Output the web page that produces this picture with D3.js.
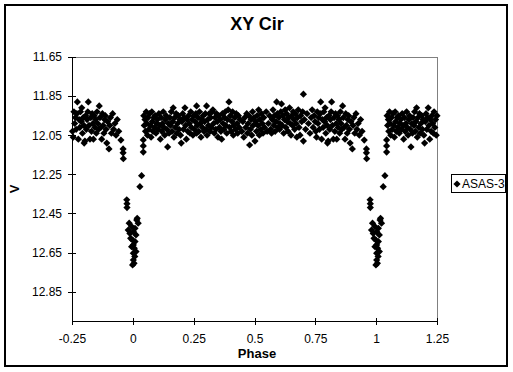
<!DOCTYPE html>
<html>
<head>
<meta charset="utf-8">
<script src="https://cdn.jsdelivr.net/npm/d3@7"></script>
<style>
  body { margin: 0; background: #fff; }
  text { font-family: "Liberation Sans", Arial, sans-serif; fill: #000; }
</style>
</head>
<body>
<svg id="chart"></svg>
<script>
//axis ticks and labels
let xTicks = [-0.25, 0, 0.25, 0.5, 0.75, 1, 1.25];
let xTickLabels = ['-0.25', '0', '0.25', '0.5', '0.75', '1', '1.25'];
let yTicks = [11.65, 11.85, 12.05, 12.25, 12.45, 12.65, 12.85];
let yTickLabels = ['11.65', '11.85', '12.05', '12.25', '12.45', '12.65', '12.85'];
let seriesName = 'ASAS-3';

//eclipse points (phase, V)
let eclPhase = [0.951, 0.960, 0.960, 0.961, 0.975, 0.976, 0.976, 0.985, 0.981, 0.988,
                0.991, 0.995, 0.995, 0.999, 0.999, 0.002, 0.002, 0.002, 0.002, 0.005,
                0.006, 0.008, 0.009, 0.009, 0.013, 0.013, 0.016, 0.018, 0.022, 0.029,
                0.036, 0.043, 0.043, 0.043];
let eclV = [12.075, 12.12, 12.14, 12.17, 12.38, 12.40, 12.42, 12.50, 12.535, 12.552,
            12.577, 12.517, 12.62, 12.586, 12.713, 12.543, 12.611, 12.653, 12.688, 12.705,
            12.628, 12.67, 12.526, 12.594, 12.56, 12.645, 12.484, 12.475, 12.50, 12.313,
            12.257, 12.074, 12.105, 12.136];

//out of eclipse, first half
let outPhase1 = [0.045, 0.047, 0.050, 0.052, 0.055, 0.058, 0.060, 0.063, 0.066, 0.069,
                 0.072, 0.075, 0.078, 0.080, 0.083, 0.086, 0.089, 0.092, 0.095, 0.098,
                 0.101, 0.104, 0.107, 0.110, 0.113, 0.116, 0.119, 0.122, 0.125, 0.128,
                 0.131, 0.134, 0.137, 0.140, 0.143, 0.146, 0.149, 0.152, 0.155, 0.158,
                 0.161, 0.164, 0.166, 0.169, 0.172, 0.175, 0.178, 0.181, 0.184, 0.187,
                 0.190, 0.193, 0.196, 0.199,
                 0.202, 0.205, 0.208, 0.211, 0.214, 0.217, 0.220, 0.223, 0.226, 0.229,
                 0.232, 0.235, 0.238, 0.241, 0.244, 0.247, 0.250, 0.253, 0.256, 0.259,
                 0.262, 0.262, 0.265, 0.268, 0.271, 0.274, 0.277, 0.280, 0.283, 0.286,
                 0.289, 0.292, 0.295, 0.298,
                 0.301, 0.303, 0.305, 0.308, 0.311, 0.314, 0.317, 0.320, 0.323, 0.326,
                 0.329, 0.332, 0.335, 0.338, 0.341, 0.344, 0.347, 0.350, 0.353, 0.356,
                 0.359, 0.362, 0.365, 0.368, 0.371, 0.374, 0.377, 0.380, 0.383, 0.386,
                 0.389, 0.392, 0.395, 0.398,
                 0.401, 0.404, 0.407, 0.410, 0.413, 0.416, 0.419, 0.422, 0.425, 0.428,
                 0.431, 0.434, 0.437, 0.440, 0.448, 0.452, 0.456, 0.460, 0.464, 0.468,
                 0.471, 0.474, 0.477, 0.480, 0.483, 0.486, 0.489, 0.492, 0.495, 0.498];
let outV1 = [11.95, 12.00, 11.97, 12.03, 11.93, 11.99, 12.05, 11.96, 12.02, 11.94,
             12.00, 12.06, 11.93, 11.98, 12.03, 11.96, 12.01, 11.95, 12.04, 11.99,
             11.97, 12.02, 11.94, 12.00, 12.07, 11.96, 12.03, 11.99, 11.93, 12.01,
             12.05, 11.97, 11.95, 12.02, 12.11, 11.99, 12.04, 11.96, 12.00, 11.93,
             12.03, 11.98, 11.91, 12.06, 11.96, 12.01, 11.94, 12.04, 11.99, 11.95,
             12.02, 11.97, 12.05, 12.09,
             11.98, 11.94, 12.02, 11.96, 11.91, 12.00, 12.07, 11.97, 12.03, 11.95,
             11.99, 12.04, 11.93, 12.01, 11.97, 12.05, 11.95, 12.02, 11.98, 11.94,
             11.90, 12.04, 12.00, 11.96, 12.03, 11.93, 11.99, 12.06, 11.97, 12.01,
             11.95, 12.03, 11.98, 11.94,
             12.02, 11.90, 12.05, 11.97, 12.00, 11.94, 12.03, 11.96, 12.01, 11.93,
             11.92, 11.99, 12.04, 11.96, 12.02, 11.94, 11.98, 12.06, 11.95, 12.01,
             11.97, 12.03, 12.07, 11.94, 11.99, 12.02, 11.96, 11.93, 12.00, 12.04,
             11.97, 11.92, 11.88, 12.01,
             11.95, 12.03, 11.98, 11.93, 12.05, 12.00, 11.96, 12.02, 11.94, 11.99,
             12.04, 11.95, 12.01, 11.97, 12.03, 11.98, 12.06, 11.96, 12.01, 11.94,
             12.04, 11.99, 11.95, 12.10, 12.02, 11.97, 12.05, 11.93, 12.00, 11.96];

//out of eclipse, second half
let outPhase2 = [0.502, 0.505, 0.508, 0.511, 0.514, 0.517, 0.520, 0.523, 0.526, 0.529,
                 0.532, 0.535, 0.538, 0.541, 0.548, 0.552, 0.557, 0.562, 0.566, 0.570,
                 0.573, 0.576, 0.579, 0.582, 0.585, 0.588, 0.591, 0.594, 0.597,
                 0.600, 0.603, 0.605, 0.608, 0.611, 0.614, 0.617, 0.620, 0.623, 0.626,
                 0.629, 0.632, 0.635, 0.638, 0.641, 0.644, 0.647, 0.650, 0.653, 0.656,
                 0.659, 0.662, 0.665, 0.668, 0.671, 0.674, 0.677, 0.680, 0.683, 0.687,
                 0.690, 0.694, 0.698, 0.701, 0.701,
                 0.705, 0.710, 0.716, 0.722, 0.728, 0.733, 0.737, 0.741, 0.745, 0.749,
                 0.752, 0.755, 0.758, 0.761, 0.764, 0.767, 0.770, 0.772, 0.776, 0.779,
                 0.782, 0.785, 0.788, 0.790, 0.793, 0.796, 0.799,
                 0.800, 0.803, 0.806, 0.809, 0.812, 0.815, 0.817, 0.820, 0.824, 0.827,
                 0.830, 0.833, 0.836, 0.838, 0.841, 0.844, 0.847, 0.850, 0.853, 0.856,
                 0.859, 0.862, 0.865, 0.868, 0.872, 0.875, 0.878, 0.881, 0.884, 0.887,
                 0.890, 0.893, 0.896,
                 0.902, 0.905, 0.908, 0.912, 0.917, 0.921, 0.926, 0.931, 0.936, 0.942];
let outV2 = [12.08, 11.98, 12.03, 11.95, 12.00, 11.92, 12.05, 11.97, 12.02, 11.94,
             11.99, 12.04, 11.96, 12.01, 11.93, 12.03, 11.99, 11.95, 12.02, 12.04,
             11.97, 11.92, 12.00, 11.95, 12.03, 11.98, 11.88, 11.94, 12.01,
             11.96, 12.02, 11.99, 11.93, 11.89, 12.00, 11.95, 12.04, 11.97, 11.92,
             12.01, 11.94, 11.98, 12.03, 11.96, 11.91, 11.99, 12.05, 11.95, 12.00,
             11.93, 11.97, 12.02, 11.94, 11.99, 12.06, 11.96, 11.92, 12.01, 12.05,
             11.95, 11.98, 11.93, 11.84, 12.08,
             11.97, 12.02, 11.94, 11.99, 12.04, 11.96, 11.92, 12.01, 11.95, 11.98,
             12.03, 12.06, 11.93, 11.99, 11.96, 12.02, 11.94, 11.88, 12.07, 11.97,
             12.01, 11.93, 11.98, 11.91, 12.04, 11.96, 12.00,
             12.09, 12.08, 11.95, 12.02, 11.97, 11.93, 11.88, 12.00, 12.07, 11.96,
             12.03, 11.94, 11.99, 12.07, 11.95, 12.01, 11.97, 12.04, 11.93, 11.99,
             12.02, 11.90, 11.96, 12.01, 12.07, 11.94, 12.00, 12.04, 11.97, 11.95,
             12.02, 12.09, 11.98,
             12.12, 12.00, 11.96, 12.04, 11.94, 12.02, 11.99, 12.05, 11.97, 12.03];

//svg dimensions and plot area
let width = 513;
let height = 372;
let plot = {left: 72, right: 437, top: 57, bottom: 321};

let svg = d3.select('#chart').attr('width', width).attr('height', height);

svg.append('rect').attr('width', width).attr('height', height).attr('fill', '#fff');

//chart border
svg.append('rect')
    .attr('x', 5).attr('y', 5)
    .attr('width', 502).attr('height', 361)
    .attr('fill', 'none').attr('stroke', '#000').attr('stroke-width', 2);

//scales
let xScale = d3.scaleLinear().domain([-0.25, 1.25]).range([plot.left, plot.right]);
let yScale = d3.scaleLinear().domain([11.65, 13.0]).range([plot.top, plot.bottom]);

//gray top/right edges of plot area
svg.append('path')
    .attr('d', 'M' + plot.left + ',' + (plot.top + 0.5) + 'H' + (plot.right + 0.5) + 'V' + plot.bottom)
    .attr('fill', 'none').attr('stroke', '#808080').attr('shape-rendering', 'crispEdges');

//build the phase-folded series, repeated beyond 0..1
let base = [];
eclPhase.forEach((p, i) => base.push({p: p, v: eclV[i]}));
outPhase1.forEach((p, i) => base.push({p: p, v: outV1[i]}));
outPhase2.forEach((p, i) => base.push({p: p, v: outV2[i]}));
let points = base.slice();
base.forEach(d => {
    if (d.p >= 0.75) points.push({p: d.p - 1, v: d.v});
    if (d.p <= 0.25) points.push({p: d.p + 1, v: d.v});
});

//square diamond like Excel's marker
let diamond = {
    draw(ctx, size) {
        let r = Math.sqrt(size / 2);
        ctx.moveTo(0, -r); ctx.lineTo(r, 0); ctx.lineTo(0, r); ctx.lineTo(-r, 0); ctx.closePath();
    }
};
let marker = d3.symbol(diamond, 26);

svg.append('g')
    .selectAll('path')
    .data(points)
    .join('path')
    .attr('d', marker)
    .attr('fill', '#000')
    .attr('transform', d => 'translate(' + xScale(d.p) + ',' + yScale(d.v) + ')');

//axes
let yAxis = d3.axisLeft(yScale)
    .tickValues(yTicks)
    .tickFormat((d, i) => yTickLabels[i])
    .tickSize(4).tickSizeOuter(0).tickPadding(6);
let gy = svg.append('g')
    .attr('transform', 'translate(' + plot.left + ',0)')
    .call(yAxis);
gy.selectAll('.tick line').attr('x1', 4).attr('x2', -4);

let xAxis = d3.axisBottom(xScale)
    .tickValues(xTicks)
    .tickFormat((d, i) => xTickLabels[i])
    .tickSize(4).tickSizeOuter(0).tickPadding(9);
let gx = svg.append('g')
    .attr('transform', 'translate(0,' + plot.bottom + ')')
    .call(xAxis);
gx.selectAll('.tick line').attr('y1', -3).attr('y2', 4);

[gx, gy].forEach(g => {
    g.attr('font-family', null).attr('font-size', null);
    g.selectAll('path, line').attr('stroke', '#000').attr('shape-rendering', 'crispEdges');
    g.selectAll('text').attr('fill', '#000').style('font-size', '12px');
});

//titles
svg.append('text')
    .attr('x', 257).attr('y', 30)
    .attr('text-anchor', 'middle')
    .style('font-size', '18px').style('font-weight', 'bold')
    .text('XY Cir');

svg.append('text')
    .attr('x', 257).attr('y', 358)
    .attr('text-anchor', 'middle')
    .style('font-size', '13px').style('font-weight', 'bold')
    .text('Phase');

svg.append('text')
    .attr('transform', 'translate(19,189) rotate(-90)')
    .attr('text-anchor', 'middle')
    .style('font-size', '13px').style('font-weight', 'bold')
    .text('V');

//legend
let legend = svg.append('g');
legend.append('rect')
    .attr('x', 451.5).attr('y', 174.5)
    .attr('width', 54).attr('height', 18)
    .attr('fill', '#fff').attr('stroke', '#000');
legend.append('path')
    .attr('d', marker)
    .attr('transform', 'translate(457,184)');
legend.append('text')
    .attr('x', 462).attr('y', 188)
    .style('font-size', '12px')
    .text(seriesName);
</script>
</body>
</html>
